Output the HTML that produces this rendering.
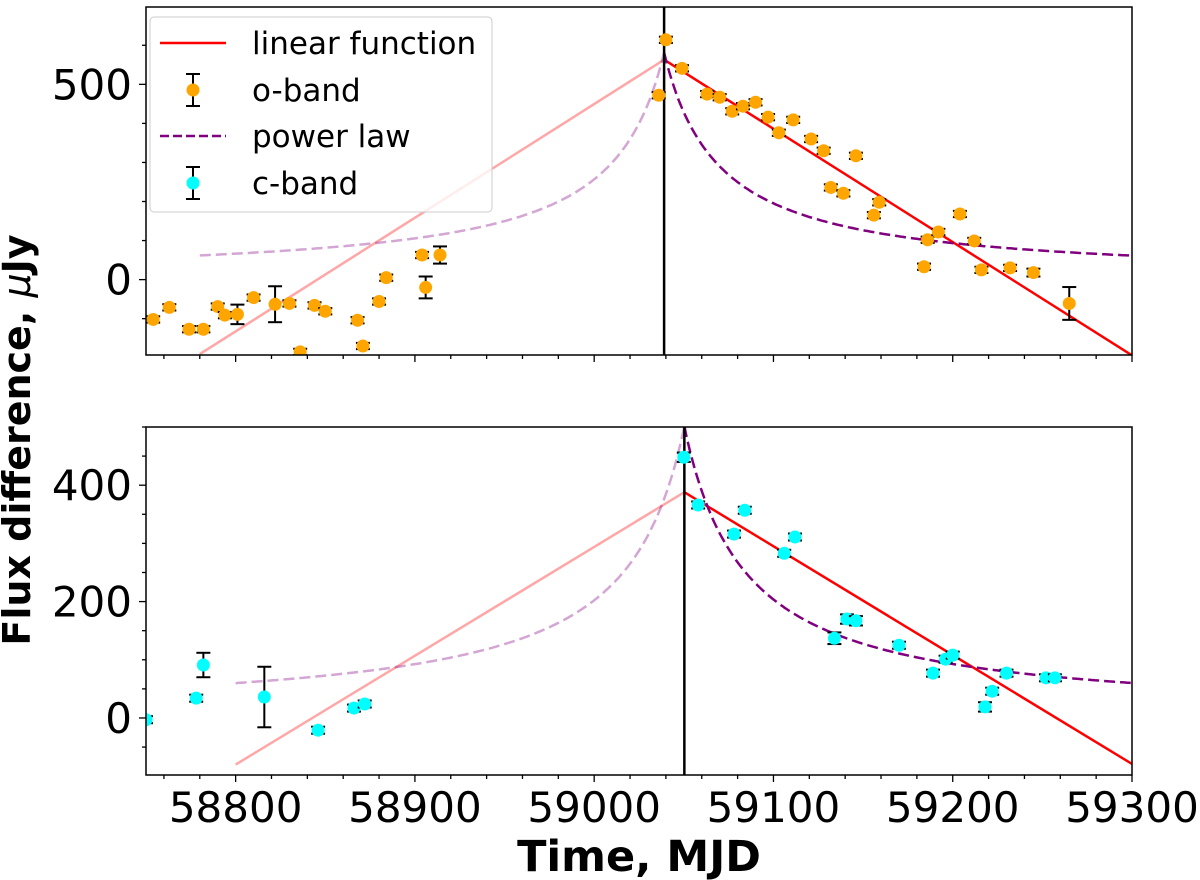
<!DOCTYPE html>
<html><head><meta charset="utf-8"><style>
html,body{margin:0;padding:0;background:#fff}
svg{display:block;font-family:"DejaVu Sans","Liberation Sans",sans-serif}
</style></head><body>
<svg id="chart" width="1200" height="880" viewBox="0 0 1200 880" xmlns="http://www.w3.org/2000/svg">
</svg>
<script>
// ---- data ----
const oTime = [58754,58763,58774,58782,58790,58794,58801,58810,58822,58830,58836,58844,58850,58868,58871,58880,58884,58904,58906,58914,
  59036,59040,59049,59063,59070,59077,59083,59090,59097,59103,59111,59121,59128,59132,59139,59146,59156,59159,59184,59186,59192,59204,59212,59216,59232,59245,59265];
const oFlux = [-102,-71,-127,-127,-69,-91,-89,-46,-63,-61,-185,-66,-81,-104,-170,-56,5,63,-20,63,
  472,614,541,475,467,431,444,454,416,376,409,360,330,236,221,317,165,198,33,102,122,168,99,25,30,18,-61];
const oErr = [8,8,8,8,8,8,25,8,46,8,8,8,8,8,8,8,8,8,28,22,
  8,8,8,8,8,8,8,8,8,8,8,8,8,8,8,8,8,8,8,8,8,8,8,8,8,10,42];
const cTime = [58750,58778,58782,58816,58846,58866,58872,59050,59058,59078,59084,59106,59112,59134,59141,59146,59170,59189,59196,59200,59218,59222,59230,59252,59257];
const cFlux = [-3,34,91,36,-21,17,24,448,366,316,357,283,311,137,170,167,125,77,101,108,19,46,77,69,69];
const cErr = [6,6,21,52,6,6,6,8,6,6,6,6,6,10,8,8,6,6,6,6,8,6,6,6,6];
// model parameters [t0, peak, slopeRise, slopeFall, tStart, tEnd]
const oLinear = [59039, 563, 2.91, 2.90, 58780, 59300];
const cLinear = [59050.3, 388, 1.87, 1.87, 58800, 59300];
// power law: A/(|t-t0|+c)  [t0, A, c, tStart, tEnd]
const oPower = [59039, 17950, 30.9, 58780, 59300];
const cPower = [59050.3, 17045, 34, 58800, 59300];
const xTicks = [58800,58900,59000,59100,59200,59300];
const topYTicks = [0,500];
const botYTicks = [0,200,400];

const NS="http://www.w3.org/2000/svg";
const svg=document.getElementById('chart');
function el(tag,attrs,parent){const e=document.createElementNS(NS,tag);for(const k in attrs)e.setAttribute(k,attrs[k]);(parent||svg).appendChild(e);return e;}

const X0=146,X1=1132, T0=58750,T1=59300;
const sx=t=>X0+(t-T0)*(X1-X0)/(T1-T0);
const DASH='11,5';
const panels=[
 {top:7,bot:355,ymin:-193,ymax:698,yTicks:topYTicks,minor:100,time:oTime,flux:oFlux,err:oErr,color:'#ffa500',lin:oLinear,pow:oPower,vline:59039,name:'o-band',labels:false},
 {top:427,bot:775,ymin:-98,ymax:500,yTicks:botYTicks,minor:50,time:cTime,flux:cFlux,err:cErr,color:'#00ffff',lin:cLinear,pow:cPower,vline:59050.3,name:'c-band',labels:true}
];
panels.forEach((p,pi)=>{
  const sy=v=>p.bot-(v-p.ymin)*(p.bot-p.top)/(p.ymax-p.ymin);
  const g=el('g',{});
  
  
  const cid='clip'+pi;
  const cp=el('clipPath',{id:cid},g); el('rect',{x:X0,y:p.top,width:X1-X0,height:p.bot-p.top},cp);
  const plot=el('g',{'clip-path':'url(#'+cid+')'},g);
  const L=p.lin;
  const lv=t=>t<L[0]?L[1]-L[2]*(L[0]-t):L[1]-L[3]*(t-L[0]);
  const lr=el('line',{x1:sx(L[4]),y1:sy(lv(L[4])),x2:sx(L[0]),y2:sy(L[1]),stroke:'#ff0000','stroke-opacity':0.35,'stroke-width':2.5},plot);
  
  
  const lf=el('line',{x1:sx(L[0]),y1:sy(L[1]),x2:sx(L[5]),y2:sy(lv(L[5])),stroke:'#ff0000','stroke-width':2.5},plot);
  
  
  const P=p.pow; const pv=t=>P[1]/(Math.abs(t-P[0])+P[2]);
  let d1='',d2='';
  for(let t=P[3];t<=P[0];t+=1)d1+=(d1?'L':'M')+sx(t).toFixed(1)+','+sy(pv(t)).toFixed(1);
  d1+='L'+sx(P[0]).toFixed(1)+','+sy(pv(P[0])).toFixed(1);
  for(let t=P[0];t<=P[4];t+=1)d2+=(d2?'L':'M')+sx(t).toFixed(1)+','+sy(pv(t)).toFixed(1);
  const pr=el('path',{d:d1,fill:'none',stroke:'#800080','stroke-opacity':0.35,'stroke-width':2.5,'stroke-dasharray':DASH},plot);
  
  
  const pf=el('path',{d:d2,fill:'none',stroke:'#800080','stroke-width':2.5,'stroke-dasharray':DASH},plot);
  
  
  const vl=el('line',{x1:sx(p.vline),x2:sx(p.vline),y1:p.top,y2:p.bot,stroke:'#000','stroke-width':2.5},plot);
  
  
  p.time.forEach((t,i)=>{
    const x=sx(t),y=sy(p.flux[i]),ya=sy(p.flux[i]+p.err[i]),yb=sy(p.flux[i]-p.err[i]);
    const pg=el('g',{},plot);
    
    
    el('line',{x1:x,x2:x,y1:ya,y2:yb,stroke:'#000','stroke-width':2},pg);
    el('line',{x1:x-7,x2:x+7,y1:ya,y2:ya,stroke:'#000','stroke-width':2},pg);
    el('line',{x1:x-7,x2:x+7,y1:yb,y2:yb,stroke:'#000','stroke-width':2},pg);
    el('circle',{cx:x,cy:y,r:6.5,fill:p.color},pg);
  });
  const fr=el('rect',{x:X0,y:p.top,width:X1-X0,height:p.bot-p.top,fill:'none',stroke:'#000','stroke-width':1.5},g);
  
  
  for(let t=58760;t<=59300;t+=20){const maj=xTicks.includes(t);
    el('line',{x1:sx(t),x2:sx(t),y1:p.bot,y2:p.bot+(maj?7:4),stroke:'#000','stroke-width':1.3},g);}
  if(p.labels) xTicks.forEach(t=>{const tx=el('text',{x:sx(t),y:822,'font-size':42,'text-anchor':'middle'},g);tx.textContent=t;
    
    });
  for(let v=Math.ceil(p.ymin/p.minor)*p.minor;v<=p.ymax;v+=p.minor){const maj=p.yTicks.includes(v);
    el('line',{x1:X0,x2:X0-(maj?7:4),y1:sy(v),y2:sy(v),stroke:'#000','stroke-width':1.3},g);}
  p.yTicks.forEach(v=>{const tx=el('text',{x:X0-14,y:sy(v)+15,'font-size':42,'text-anchor':'end'},g);tx.textContent=v;
    
    });
});

const yt=el('text',{x:0,y:0,'font-size':38,'font-weight':'bold','text-anchor':'middle',transform:'translate(30,440) rotate(-90)'});
yt.innerHTML='Flux difference, <tspan font-style="italic" font-weight="normal">μ</tspan>Jy';


const xt=el('text',{x:639,y:871,'font-size':43,'font-weight':'bold','text-anchor':'middle'});
xt.textContent='Time, MJD';


const lg=el('g',{});


el('rect',{x:150,y:17,width:342,height:195,rx:4,fill:'#fff','fill-opacity':0.8,stroke:'#ccc','stroke-width':1},lg);
el('line',{x1:160,x2:226,y1:43,y2:43,stroke:'#ff0000','stroke-width':2.5},lg);
el('line',{x1:160,x2:226,y1:136,y2:136,stroke:'#800080','stroke-width':2.5,'stroke-dasharray':'9,4'},lg);
[[90,'#ffa500'],[183,'#00ffff']].forEach(a=>{const y=a[0];
  el('line',{x1:193,x2:193,y1:y-16,y2:y+16,stroke:'#000','stroke-width':2},lg);
  el('line',{x1:186,x2:200,y1:y-16,y2:y-16,stroke:'#000','stroke-width':2},lg);
  el('line',{x1:186,x2:200,y1:y+16,y2:y+16,stroke:'#000','stroke-width':2},lg);
  el('circle',{cx:193,cy:y,r:6.5,fill:a[1]},lg);});
[['linear function',54],['o-band',101],['power law',147],['c-band',194]].forEach(a=>{
  const t=el('text',{x:252,y:a[1],'font-size':31},lg);t.textContent=a[0];
  
  });
</script>
</body></html>
